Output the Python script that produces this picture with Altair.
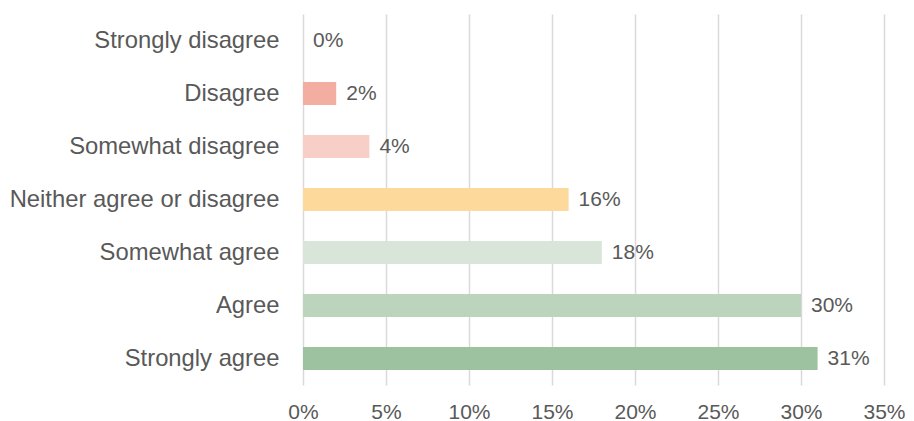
import altair as alt
import pandas as pd

categories = ["Strongly disagree", "Disagree", "Somewhat disagree",
              "Neither agree or disagree", "Somewhat agree", "Agree", "Strongly agree"]
values = [0.0, 0.02, 0.04, 0.16, 0.18, 0.30, 0.31]
labels = ["0%", "2%", "4%", "16%", "18%", "30%", "31%"]
colors = ["#F4AEA1", "#F4AEA1", "#F8CFC6", "#FDD99B", "#DAE5DA", "#BCD4BC", "#9DC29F"]

df = pd.DataFrame({"cat": categories, "val": values, "label": labels, "color": colors})

font = "Liberation Sans"
grey = "#595959"

y = alt.Y("cat:N", sort=categories, title=None,
          axis=alt.Axis(labelFontSize=23.8, labelColor=grey, labelFont=font,
                        ticks=False, domain=False, labelPadding=24, grid=False,
                        labelLimit=400))
x = alt.X("val:Q", title=None,
          scale=alt.Scale(domain=[0, 0.35], nice=False),
          axis=alt.Axis(format=".0%", values=[0, 0.05, 0.1, 0.15, 0.2, 0.25, 0.3, 0.35],
                        labelFontSize=21, labelColor=grey, labelFont=font,
                        labelFlush=False, labelOverlap=False,
                        ticks=False, domain=False, labelPadding=16,
                        grid=True, gridColor="#D9D9D9", gridWidth=1.5))

bars = alt.Chart(df).mark_bar(size=23).encode(
    x=x, y=y, color=alt.Color("color:N", scale=None)
)
text = alt.Chart(df).mark_text(align="left", dx=10, fontSize=21, color=grey, font=font).encode(
    x="val:Q", y=alt.Y("cat:N", sort=categories), text="label:N"
)

chart = (bars + text).properties(
    width=581, height=371,
    background="white",
    autosize=alt.AutoSizeParams(type="none"),
    padding={"left": 295, "top": 6, "right": 22, "bottom": 36},
).configure_view(strokeWidth=0)

chart.save("out.html", embed_options={"renderer": "svg", "actions": False})
